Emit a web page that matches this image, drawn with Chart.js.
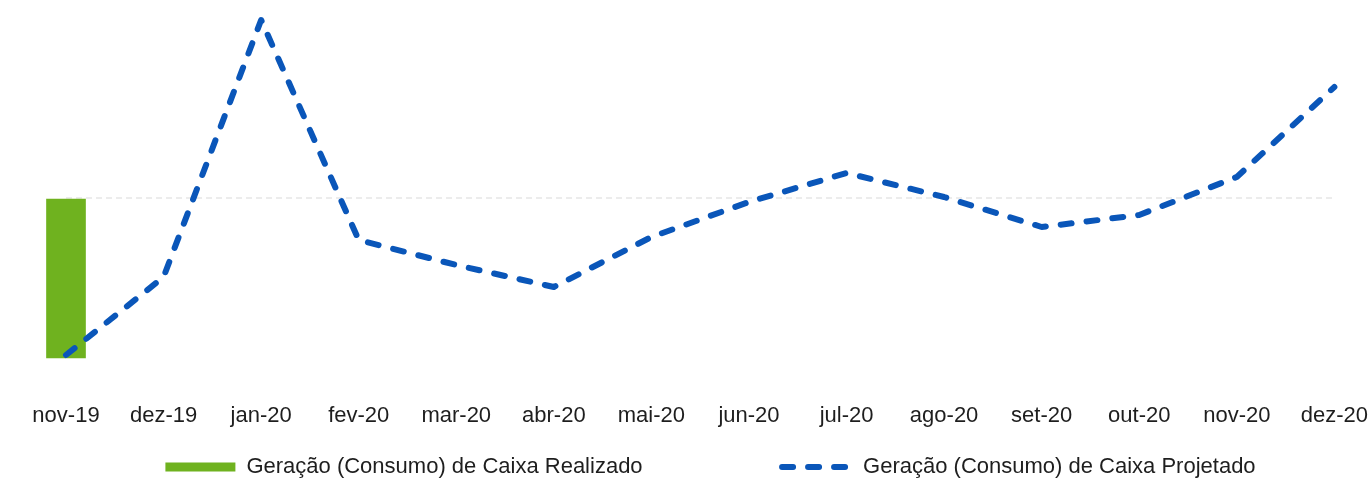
<!DOCTYPE html>
<html>
<head>
<meta charset="utf-8">
<script src="https://cdn.jsdelivr.net/npm/chart.js@4"></script>
<style>
    body { margin: 0; background: #fff; }
    #wrap { width: 1371px; height: 482px; position: relative; }
</style>
</head>
<body>
<div id="wrap"><canvas id="cashChart"></canvas></div>
<script>
// meses do eixo x
const months = ['nov-19', 'dez-19', 'jan-20', 'fev-20', 'mar-20', 'abr-20', 'mai-20',
    'jun-20', 'jul-20', 'ago-20', 'set-20', 'out-20', 'nov-20', 'dez-20'];

// valores (escala relativa)
const realizado = [-16.0, null, null, null, null, null, null, null, null, null, null, null, null, null];
const projetado = [-15.7, -7.9, 17.8, -4.2, -6.7, -8.9, -3.9, -0.4, 2.5, 0.1, -2.9, -1.7, 2.1, 11.1];

const labelRealizado = 'Geração (Consumo) de Caixa Realizado';
const labelProjetado = 'Geração (Consumo) de Caixa Projetado';

const yMin = -16.2;
const yMax = 18;

document.addEventListener("DOMContentLoaded", function() {
    const ctx = document.getElementById('cashChart').getContext('2d');
    const font = { family: "'Liberation Sans', Arial, sans-serif", size: 22 };

    // a legenda do original fica um pouco à direita do centro
    const legendShift = {
        id: 'legendShift',
        afterLayout(chart) {
            chart.legend.left += 10;
            chart.legend.right += 10;
        }
    };

    new Chart(ctx, {
        type: 'bar',
        data: {
            labels: months,
            datasets: [
                {
                    label: labelRealizado,
                    data: realizado,
                    backgroundColor: '#6fb21f',
                    borderColor: '#6fb21f',
                    borderWidth: 0,
                    barThickness: 39,
                    clip: false,
                    order: 1
                },
                {
                    type: 'line',
                    label: labelProjetado,
                    data: projetado,
                    borderColor: '#0a56b9',
                    backgroundColor: '#0a56b9',
                    borderWidth: 6,
                    borderDash: [11, 15],
                    borderCapStyle: 'round',
                    borderJoinStyle: 'round',
                    tension: 0,
                    pointRadius: 0,
                    fill: false,
                    clip: false,
                    order: 0
                }
            ]
        },
        options: {
            responsive: true,
            maintainAspectRatio: false,
            animation: false,
            layout: {
                padding: { top: 18, left: 66, right: 36, bottom: -6 }
            },
            scales: {
                x: {
                    offset: false,
                    grid: { display: false, drawTicks: true, tickLength: 40 },
                    border: { display: false },
                    ticks: {
                        padding: 3,
                        color: '#1e1e1e',
                        font: font,
                        maxRotation: 0,
                        autoSkip: false
                    },
                    afterFit: scale => { scale.height = 91; }
                },
                y: {
                    min: yMin,
                    max: yMax,
                    border: { display: false, dash: [6, 4] },
                    ticks: { display: false },
                    grid: { drawTicks: false, color: '#ececec', lineWidth: 2 },
                    afterBuildTicks: axis => { axis.ticks = [{ value: 0 }]; }
                }
            },
            plugins: {
                tooltip: { enabled: false },
                legend: {
                    position: 'bottom',
                    labels: {
                        font: font,
                        color: '#1e1e1e',
                        padding: 5,
                        usePointStyle: true,
                        pointStyleWidth: 70,
                        boxHeight: 9,
                        generateLabels: chart => chart.data.datasets.map((ds, i) => ({
                            text: i === 0 ? ds.label + ' '.repeat(22) : ds.label,
                            datasetIndex: i,
                            fillStyle: ds.backgroundColor,
                            strokeStyle: ds.borderColor,
                            lineWidth: i === 0 ? 0 : ds.borderWidth,
                            lineDash: ds.borderDash || [],
                            lineCap: 'round',
                            pointStyle: i === 0 ? 'rect' : 'line',
                            fontColor: '#1e1e1e',
                            hidden: false
                        }))
                    }
                }
            }
        },
        plugins: [legendShift]
    });
});
</script>
</body>
</html>
